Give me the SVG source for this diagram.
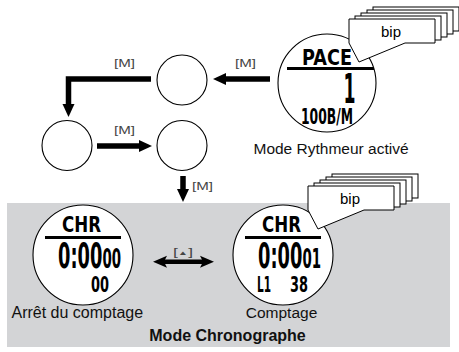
<svg xmlns="http://www.w3.org/2000/svg" width="459" height="352" viewBox="0 0 459 352">
<style>
.lbl{font-family:"Liberation Sans",Arial,sans-serif;font-size:15.5px;fill:#111}
.key{font-family:"Liberation Sans",Arial,"DejaVu Sans",sans-serif;font-size:10px;fill:#444}
.lcd{font-family:"DejaVu Sans","Liberation Sans",sans-serif;font-weight:bold;fill:#000}
.ring{fill:#fff;stroke:#000;stroke-width:1.1}
.bub{fill:#fff;stroke:#000;stroke-width:1}
.bip{font-family:"Liberation Sans",Arial,sans-serif;font-size:15px;fill:#000;text-anchor:middle}
.shaft{fill:none;stroke:#000;stroke-width:5.5}
.head{fill:#000}
</style>
<rect x="0" y="0" width="459" height="352" fill="#fff"/>
<rect x="7" y="203" width="443" height="144" fill="#d3d4d6"/>

<g id="connectors">
  <path class="shaft" d="M270,79 H224"/>
  <polygon class="head" points="213,79 226,73 226,85"/>
  <path class="shaft" d="M151,79 H68.5 V106"/>
  <polygon class="head" points="68.5,117 62.5,104 74.5,104"/>
  <path class="shaft" d="M97,146 H141"/>
  <polygon class="head" points="152,146 139,140 139,152"/>
  <path class="shaft" d="M183,176 V191"/>
  <polygon class="head" points="183,202 177,189 189,189"/>
  <path class="shaft" style="stroke-width:4.5" d="M163,261.7 H204"/>
  <polygon class="head" points="153,261.7 167,255.7 164,261.7 167,267.7"/>
  <polygon class="head" points="214,261.7 200,255.7 203,261.7 200,267.7"/>
  <text class="key" x="114" y="66.5" textLength="21" lengthAdjust="spacingAndGlyphs">[M]</text>
  <text class="key" x="235" y="66.5" textLength="21" lengthAdjust="spacingAndGlyphs">[M]</text>
  <text class="key" x="114" y="134" textLength="21" lengthAdjust="spacingAndGlyphs">[M]</text>
  <text class="key" x="192" y="190" textLength="21" lengthAdjust="spacingAndGlyphs">[M]</text>
  <text class="key" x="173" y="256" textLength="20" lengthAdjust="spacingAndGlyphs">[<tspan font-size="6" dy="-1.5">▲</tspan><tspan dy="1.5">]</tspan></text>
</g>

<g id="node-blank-1"><circle class="ring" cx="182" cy="80" r="25"/></g>
<g id="node-blank-2"><circle class="ring" cx="67" cy="145.5" r="25"/></g>
<g id="node-blank-3"><circle class="ring" cx="182" cy="145.5" r="25"/></g>

<g id="node-pace">
  <circle class="ring" cx="327" cy="83" r="49"/>
  <text class="lcd" x="302" y="65" font-size="20.5" textLength="50" lengthAdjust="spacingAndGlyphs">PACE</text>
  <line x1="287" y1="68.5" x2="374" y2="68.5" stroke="#000" stroke-width="3"/>
  <text class="lcd" x="349.5" y="103" font-size="41" text-anchor="middle" textLength="12" lengthAdjust="spacingAndGlyphs">1</text>
  <text class="lcd" x="301" y="124" font-size="22" textLength="52" lengthAdjust="spacingAndGlyphs">100B/M</text>
  <g id="bip-top">
    <rect class="bub" x="373" y="7" width="86" height="24"/>
    <rect class="bub" x="367" y="10" width="86" height="24"/>
    <rect class="bub" x="361" y="13" width="86" height="24"/>
    <rect class="bub" x="355" y="16" width="86" height="24"/>
    <path class="bub" d="M349,19 H435 V43 H405 L359,62 L349,43 Z"/>
    <text class="bip" x="391" y="37">bip</text>
  </g>
  <text class="lbl" x="331" y="153.5" text-anchor="middle">Mode Rythmeur activé</text>
</g>

<g id="node-chr-stop">
  <circle class="ring" cx="83" cy="255" r="50"/>
  <text class="lcd" x="62" y="232" font-size="20.5" textLength="39" lengthAdjust="spacingAndGlyphs">CHR</text>
  <line x1="45" y1="237.5" x2="121" y2="237.5" stroke="#000" stroke-width="3"/>
  <text class="lcd" x="58" y="268" font-size="36" textLength="63" lengthAdjust="spacingAndGlyphs">0:00<tspan font-size="27">00</tspan></text>
  <text class="lcd" x="91" y="292" font-size="20.5" textLength="18" lengthAdjust="spacingAndGlyphs">00</text>
  <text class="lbl" x="11.5" y="318" style="font-size:16px">Arrêt du comptage</text>
</g>

<g id="node-chr-run">
  <circle class="ring" cx="283" cy="255" r="50"/>
  <text class="lcd" x="262" y="232" font-size="20.5" textLength="39" lengthAdjust="spacingAndGlyphs">CHR</text>
  <line x1="245" y1="237.5" x2="321" y2="237.5" stroke="#000" stroke-width="3"/>
  <text class="lcd" x="258" y="268" font-size="36" textLength="63" lengthAdjust="spacingAndGlyphs">0:00<tspan font-size="27">01</tspan></text>
  <text class="lcd" x="257" y="292" font-size="20.5" textLength="14" lengthAdjust="spacingAndGlyphs">L1</text>
  <text class="lcd" x="290" y="292" font-size="20.5" textLength="18" lengthAdjust="spacingAndGlyphs">38</text>
  <g id="bip-bottom">
    <rect class="bub" x="332" y="174" width="86" height="24"/>
    <rect class="bub" x="326" y="177" width="86" height="24"/>
    <rect class="bub" x="320" y="180" width="86" height="24"/>
    <rect class="bub" x="314" y="183" width="86" height="24"/>
    <path class="bub" d="M308,186 H394 V210 H364 L318,229 L308,210 Z"/>
    <text class="bip" x="350" y="204">bip</text>
  </g>
  <text class="lbl" x="281.5" y="318" text-anchor="middle">Comptage</text>
</g>

<text x="227.5" y="341" text-anchor="middle" style="font-family:'Liberation Sans',Arial,sans-serif;font-size:16px;font-weight:bold;fill:#111">Mode Chronographe</text>
</svg>
